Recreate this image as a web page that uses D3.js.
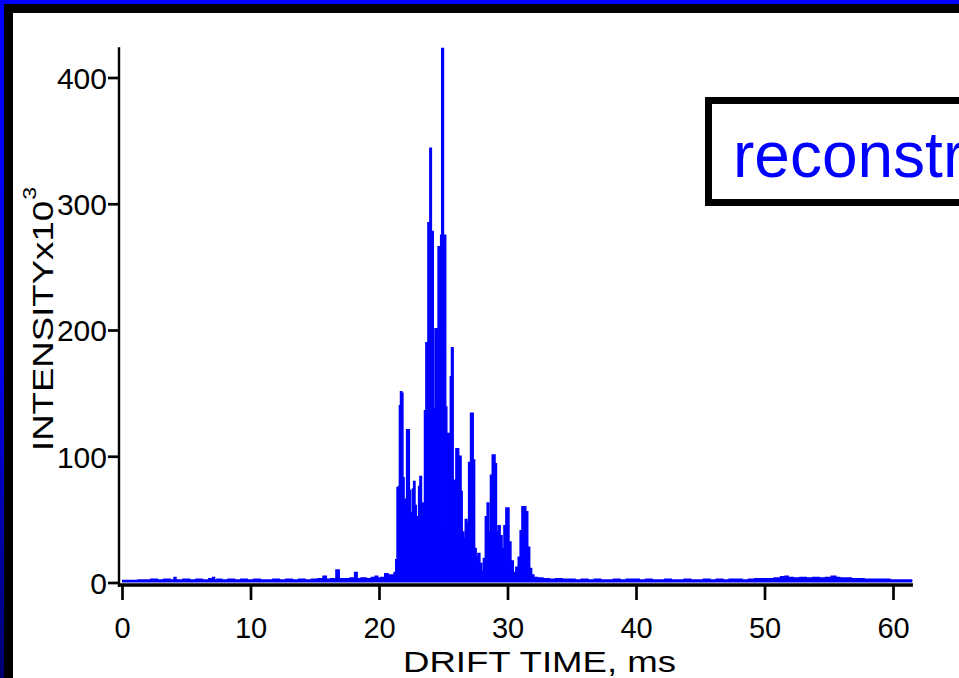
<!DOCTYPE html>
<html><head><meta charset="utf-8">
<script src="https://cdn.jsdelivr.net/npm/d3@7"></script>
<style>html,body{margin:0;padding:0;background:#fff;overflow:hidden}</style>
</head><body>
<svg id="chart" width="959" height="678"></svg>
<script>
// ---- data (drift time in ms, intensity in 10^3 counts) ----
const xTicks = [0, 10, 20, 30, 40, 50, 60];
const yTicks = [0, 100, 200, 300, 400];
const xTitle = "DRIFT TIME, ms";
const yTitle = "INTENSITYx10";
const yTitleExp = "3";
const legendText = "reconstructed";

const leftBaseline = [
  [0,1.5],[0.5,1.5],[1,1.5],[1.5,2],[2,2],[2.5,2.5],[3,2],[3.5,2.5],[4,2],[4.1,4],[4.3,2],[4.5,2],
  [5,2.5],[5.5,2],[6,2.5],[6.5,2],[7,3],[7.1,4],[7.3,2],[7.5,2.5],[8,2],[8.5,2.5],[9,2],[9.5,2.5],
  [10,2],[10.5,2.5],[11,2],[11.5,2],[12,2.5],[12.5,2],[13,2.5],[13.5,2],[14,2.5],[14.5,2],[15,2.5],
  [15.5,3],[15.8,5],[16,2.5],[16.5,3],[16.8,10],[17,3],[17.5,3],[18,3.5],[18.2,8],[18.4,3],[18.8,3.5],
  [19.2,3],[19.6,4],[19.8,5],[20,3.5],[20.3,4],[20.6,7],[20.8,6]
];
const peakRegion = [
  [21.1,6],[21.25,8],[21.36,18],[21.45,75],[21.55,76],[21.63,140],[21.72,151],[21.82,150],[21.9,83],
  [22.0,66],[22.1,46],[22.2,121],[22.3,121],[22.42,73],[22.5,36],[22.58,55],[22.64,74],[22.75,80],
  [22.85,61],[22.95,52],[23.05,52],[23.12,76],[23.25,84],[23.36,39],[23.48,63],[23.6,136],[23.7,190],
  [23.78,188],[23.84,285],[23.92,285],[24.0,344],[24.05,344],[24.1,278],[24.18,278],[24.26,138],
  [24.32,138],[24.4,201],[24.48,201],[24.55,194],[24.65,266],[24.75,266],[24.85,275],[24.92,423],
  [24.98,423],[25.05,275],[25.15,275],[25.23,139],[25.32,45],[25.4,118],[25.5,118],[25.6,163],
  [25.68,186],[25.74,186],[25.8,75],[25.92,81],[26.05,106],[26.15,106],[26.25,73],[26.35,100],
  [26.42,72],[26.52,40],[26.65,35],[26.78,50],[26.9,47],[27.05,95],[27.2,134],[27.28,134],[27.38,97],
  [27.5,27],[27.62,20],[27.78,23],[27.92,15],[28.05,9],[28.2,19],[28.35,52],[28.48,63],[28.6,40],
  [28.75,85],[28.88,101],[28.98,101],[29.08,94],[29.2,40],[29.35,45],[29.5,37],[29.65,27],[29.8,45],
  [29.95,59],[30.05,59],[30.18,32],[30.35,17],[30.55,8],[30.75,12],[30.92,20],[31.05,41],[31.2,60],
  [31.35,60],[31.5,56],[31.65,28],[31.8,11],[31.95,6],[32.15,4]
];
const rightBaseline = [
  [32.5,3.5],[33,3],[33.5,2.5],[34,3],[34.5,2.5],[35,2.5],[35.5,2],[36,2.5],[36.5,2],[37,2.5],[37.5,2],
  [38,2],[38.5,2.5],[39,2],[39.5,2.5],[40,2.5],[40.5,2],[41,2.5],[41.5,2],[42,2],[42.5,2.5],[43,2],
  [43.5,2],[44,2.5],[44.5,2],[45,2],[45.5,2.5],[46,2],[46.5,2.5],[47,2],[47.5,2.5],[48,2.5],[48.5,2],
  [49,2.5],[49.5,3],[50,3],[50.5,3],[51,3.5],[51.5,4.5],[51.7,5],[52,4],[52.5,3.5],[53,4],[53.5,3.5],
  [54,4],[54.5,3.5],[55,4],[55.4,5],[55.7,4],[56,3.5],[56.5,3.5],[57,3],[57.5,3],[58,2.5],[58.5,2.5],
  [59,2.5],[59.5,2.5],[60,2],[60.5,2],[61,2],[61.5,2]
];
const series = leftBaseline.concat(peakRegion, rightBaseline).map(d => ({t: d[0], v: d[1]}));

// ---- drawing ----
const W = 959, H = 678;
const svg = d3.select("#chart");
const font = "'Liberation Sans', Arial, Helvetica, sans-serif";

// frame
const defs = svg.append("defs");
const grad = defs.append("linearGradient").attr("id", "leftGrad")
  .attr("x1", 0).attr("y1", 0).attr("x2", 0).attr("y2", 1);
grad.append("stop").attr("offset", "0").attr("stop-color", "#0000ff");
grad.append("stop").attr("offset", "0.55").attr("stop-color", "#0000e8");
grad.append("stop").attr("offset", "1").attr("stop-color", "#000070");
svg.append("rect").attr("x", 0).attr("y", 0).attr("width", W).attr("height", 4).attr("fill", "#0000ff");
svg.append("rect").attr("x", 0).attr("y", 0).attr("width", 4).attr("height", H).attr("fill", "url(#leftGrad)");
svg.append("rect").attr("x", 4).attr("y", 4).attr("width", W - 4).attr("height", 9).attr("fill", "#000");
svg.append("rect").attr("x", 4).attr("y", 4).attr("width", 9).attr("height", H - 4).attr("fill", "#000");

// scales
const x = d3.scaleLinear().domain([0, 60]).range([122, 893]);
const y = d3.scaleLinear().domain([0, 400]).range([582.5, 77.5]);

// data: area + line with step curve
const area = d3.area().x(d => x(d.t)).y0(y(0)).y1(d => y(d.v)).curve(d3.curveStep);
const line = d3.line().x(d => x(d.t)).y(d => y(d.v)).curve(d3.curveStep);
svg.append("path").datum(series).attr("d", area).attr("fill", "#0000ff");
svg.append("path").datum(series).attr("d", line).attr("fill", "none")
  .attr("stroke", "#0000ff").attr("stroke-width", 1.5);

// y axis
const yAxisX = 119;
const gy = svg.append("g").attr("transform", `translate(${yAxisX},0)`)
  .call(d3.axisLeft(y).tickValues(yTicks).tickSize(11).tickPadding(1).tickFormat(d3.format("d")));
gy.select(".domain").remove();
gy.selectAll(".tick line").attr("stroke", "#000").attr("stroke-width", 2.7);
gy.selectAll(".tick text").attr("font-family", font).attr("font-size", 30).attr("fill", "#000")
  .attr("x", -12).attr("dy", "0.36em");
svg.append("line").attr("x1", yAxisX).attr("x2", yAxisX).attr("y1", y(424)).attr("y2", 587)
  .attr("stroke", "#000").attr("stroke-width", 2.4);

// x axis
const xAxisY = 585;
const gx = svg.append("g").attr("transform", `translate(0,${xAxisY})`)
  .call(d3.axisBottom(x).tickValues(xTicks).tickSize(15).tickFormat(d3.format("d")));
gx.select(".domain").remove();
gx.selectAll(".tick line").attr("stroke", "#000").attr("stroke-width", 2.7);
gx.selectAll(".tick text").attr("font-family", font).attr("font-size", 29).attr("fill", "#000")
  .attr("y", 53).attr("dy", 0);
svg.append("line").attr("x1", yAxisX - 1).attr("x2", x(61.55)).attr("y1", xAxisY).attr("y2", xAxisY)
  .attr("stroke", "#000").attr("stroke-width", 3.5);

// axis titles (horizontally stretched glyphs)
svg.append("text").attr("transform", "translate(403,672) scale(1.22,1)")
  .attr("font-family", font).attr("font-size", 30).attr("fill", "#000").text(xTitle);
const yt = svg.append("text").attr("transform", "translate(53,451) rotate(-90) scale(1.22,1)")
  .attr("font-family", font).attr("font-size", 30).attr("fill", "#000");
yt.append("tspan").text(yTitle);
yt.append("tspan").attr("font-size", 19).attr("dy", -17).attr("dx", 1).text(yTitleExp);

// legend box
svg.append("rect").attr("x", 708.5).attr("y", 100.5).attr("width", 320).attr("height", 102)
  .attr("fill", "#fff").attr("stroke", "#000").attr("stroke-width", 7);
svg.append("text").attr("x", 733).attr("y", 177).attr("font-family", font).attr("font-size", 64)
  .attr("fill", "#0000ff").text(legendText);
</script>
</body></html>
